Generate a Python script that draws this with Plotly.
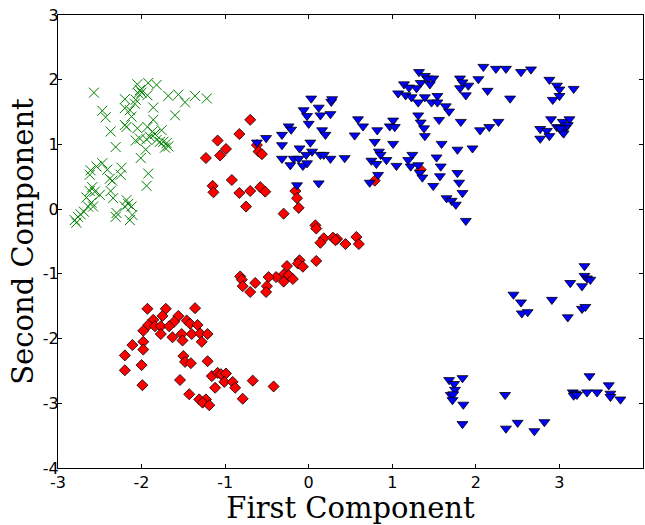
import plotly.graph_objects as go

# ---- data ----
green_x = [-2.05, -1.92, -1.82, -2.02, -2.00, -1.93, -2.04, -2.57, -1.68, -1.56, -1.48, -1.36, -1.22,
           -2.20, -2.07, -2.08, -2.20, -2.14, -1.86, -2.47, -2.43, -2.12, -1.60, -1.86, -2.20, -2.18,
           -2.05, -1.93, -2.37, -1.76, -1.87, -1.84, -2.07, -2.02, -1.94, -1.90, -1.82, -1.78, -1.74,
           -1.70, -1.68, -1.72, -2.31, -1.95, -2.01, -2.47, -2.54, -2.61, -2.62, -2.41, -2.24, -2.25,
           -1.92, -2.38, -2.35, -2.59, -2.62, -2.56, -2.50, -2.37, -2.34, -1.94, -2.66, -2.60, -2.58,
           -2.64, -2.69, -2.73, -2.76, -2.80, -2.78, -2.18, -2.16, -2.12, -2.20, -2.30, -2.31, -2.11,
           -2.14]
green_y = [1.93, 1.95, 1.92, 1.84, 1.80, 1.76, 1.79, 1.80, 1.75, 1.77, 1.65, 1.75, 1.71,
           1.70, 1.69, 1.63, 1.56, 1.53, 1.57, 1.52, 1.42, 1.43, 1.45, 1.38, 1.30, 1.27,
           1.25, 1.27, 1.20, 1.22, 1.20, 1.16, 1.06, 1.09, 1.08, 1.12, 1.07, 1.04, 1.04,
           1.02, 0.97, 0.95, 0.96, 0.92, 0.79, 0.71, 0.66, 0.60, 0.53, 0.61, 0.64, 0.53,
           0.55, 0.47, 0.44, 0.34, 0.28, 0.27, 0.22, 0.28, 0.17, 0.36, 0.18, 0.10, 0.04,
           0.04, -0.04, -0.08, -0.12, -0.17, -0.21, 0.14, 0.08, 0.04, 0.04, -0.06, -0.12, -0.09,
           -0.17]

red_x = [-0.70, -0.83, -1.09, -0.99, -1.23, -1.06, -0.62, -0.60, -0.56, -0.92, -1.15, -1.14, -0.83,
         -0.70, -0.58, -0.52, -0.75, -0.30, -0.16, -0.14, -0.12, 0.08, 0.09, 0.79, 1.34,
         0.18, 0.14, 0.29, 0.34, 0.32, 0.44, 0.57, 0.60, 0.09, -0.11, -0.13, -0.07, -0.26,
         -0.30, -0.24, -0.19, -0.30, -0.39, -0.48, -0.64, -0.82, -0.80, -0.79, -0.70, -0.50, -0.51,
         -1.93, -1.71, -1.36, -1.75, -1.56, -1.86, -1.61, -1.46, -1.92, -1.84, -1.77, -1.67, -1.42,
         -1.33, -1.98, -1.77, -1.63, -1.52, -1.40, -1.30, -1.21, -1.51, -1.28, -2.11, -1.98, -1.98,
         -2.20, -1.50, -1.48, -1.41, -1.21, -2.00, -2.20, -1.54, -1.99, -1.16, -1.09, -1.05, -0.99,
         -1.01, -0.91, -0.88, -1.12, -0.67, -0.42, -1.43, -1.31, -1.23, -1.27, -1.19, -0.79]
red_y = [1.38, 1.16, 1.06, 0.93, 0.79, 0.83, 0.99, 0.89, 0.85, 0.45, 0.36, 0.26, 0.25,
         0.28, 0.34, 0.27, 0.04, -0.07, 0.28, 0.17, 0.02, -0.25, -0.30, 0.44, 0.61,
         -0.45, -0.52, -0.44, -0.46, -0.48, -0.54, -0.43, -0.54, -0.80, -0.79, -0.84, -0.89, -0.88,
         -1.01, -1.02, -1.08, -1.12, -1.05, -1.05, -1.14, -1.04, -1.09, -1.19, -1.28, -1.19, -1.28,
         -1.54, -1.54, -1.53, -1.65, -1.65, -1.71, -1.74, -1.72, -1.79, -1.81, -1.81, -1.81, -1.77,
         -1.79, -1.88, -1.93, -1.98, -1.93, -1.93, -1.92, -1.93, -2.03, -2.05, -2.10, -2.05, -2.17,
         -2.26, -2.27, -2.36, -2.38, -2.35, -2.41, -2.49, -2.64, -2.72, -2.58, -2.53, -2.55, -2.54,
         -2.67, -2.67, -2.76, -2.76, -2.65, -2.74, -2.86, -2.94, -2.94, -2.99, -3.03, -2.93]

blue_x = [-0.06, 0.12, 0.27, -0.02, 0.14, 0.26, 0.00, -0.24, -0.21, -0.51, -0.32, 0.16, 0.20,
          -0.62, -0.32, 0.02, -0.11, 0.04, -0.03, -0.32, -0.18, -0.12, 0.14, 0.18, 0.26, -0.22,
          -0.07, -0.02, -0.14, 0.12, 0.03, 0.28, 0.43,
          1.32, 1.39, 1.43, 1.49, 1.34, 1.45, 1.14, 1.20, 1.29, 1.07, 1.16, 1.23, 1.39, 1.54,
          1.31, 1.47, 1.54, 1.64, 1.68, 1.81, 1.84, 1.91, 2.03, 1.81, 1.88, 2.14, 2.09, 2.24,
          0.59, 0.65, 0.55, 0.82, 1.01, 0.97, 1.03, 1.31, 1.34, 1.38, 1.39, 1.56, 1.82, 2.05,
          2.16, 2.27, 0.79, 1.01, 0.84, 0.86, 0.93, 0.75, 0.81, 1.05, 0.83, 0.73, 1.59, 1.78,
          1.96, 1.24, 1.19, 1.22, 1.31, 1.33, 1.36, 1.53, 1.58, 1.57, 1.49, 1.78, 1.80, 1.84,
          1.65, 1.71, 1.76, 1.88,
          2.36, 2.54, 2.66, 2.88, 2.97, 3.00, 3.17, 2.92, 3.00, 2.41, 2.90, 2.77, 2.85, 2.77,
          2.88, 2.97, 3.04, 3.12, 3.10, 3.07, 3.03, 3.05, 3.01,
          3.30, 3.30, 3.33, 3.37, 3.27, 3.13, 2.45, 2.54, 2.55, 2.62, 2.91, 3.10, 3.27, 3.31,
          1.68, 1.74, 1.84, 1.75, 1.70, 1.73, 1.72, 1.85, 1.84, 2.35, 2.36, 2.50, 2.70, 2.82,
          3.36, 3.59, 3.16, 3.19, 3.17, 3.21, 3.33, 3.45, 3.61, 3.61, 3.73]
blue_y = [1.53, 1.57, 1.66, 1.44, 1.45, 1.47, 1.32, 1.28, 1.23, 1.10, 1.15, 1.22, 1.15,
          1.03, 0.99, 1.03, 0.94, 0.89, 0.84, 0.78, 0.78, 0.78, 0.84, 0.84, 0.78, 0.68,
          0.67, 0.71, 0.37, 0.40, 1.71, 1.70, 0.79,
          2.12, 2.06, 2.02, 2.02, 1.95, 1.93, 1.93, 1.88, 1.87, 1.79, 1.76, 1.73, 1.73, 1.75,
          1.65, 1.65, 1.65, 1.59, 1.51, 2.02, 1.96, 1.91, 2.01, 1.87, 1.76, 1.83, 2.20, 2.17,
          1.39, 1.28, 1.14, 1.22, 1.37, 1.28, 1.27, 1.45, 1.34, 1.25, 1.13, 1.38, 1.35, 1.22,
          1.27, 1.35, 1.04, 1.01, 0.89, 0.84, 0.76, 0.75, 0.70, 0.67, 0.53, 0.41, 1.01, 0.92,
          0.94, 0.84, 0.76, 0.66, 0.68, 0.56, 0.49, 0.80, 0.66, 0.51, 0.36, 0.56, 0.41, 0.25,
          0.17, 0.13, 0.07, -0.18,
          2.17, 2.12, 2.16, 2.00, 1.91, 1.85, 1.86, 1.69, 1.75, 1.71, 1.39, 1.24, 1.21, 1.09,
          1.13, 1.27, 1.35, 1.39, 1.30, 1.25, 1.20, 1.17, 1.25,
          -0.88, -1.03, -1.07, -1.09, -1.19, -1.14, -1.32, -1.44, -1.61, -1.59, -1.40, -1.67, -1.54, -1.51,
          -2.64, -2.70, -2.61, -2.79, -2.87, -2.86, -2.95, -3.02, -3.32, -2.87, -3.39, -3.30, -3.43, -3.29,
          -2.58, -2.72, -2.83, -2.85, -2.88, -2.87, -2.83, -2.83, -2.85, -2.90, -2.94]

x_ticks = [-3, -2, -1, 0, 1, 2, 3, 4]
y_ticks = [-4, -3, -2, -1, 0, 1, 2, 3]

fig = go.Figure()
fig.add_trace(go.Scatter(x=green_x, y=green_y, mode="markers",
                         marker=dict(symbol="x-thin", size=10,
                                     line=dict(color="#008000", width=1), color="#008000")))
fig.add_trace(go.Scatter(x=red_x, y=red_y, mode="markers",
                         marker=dict(symbol="diamond", size=8.5, color="#ff0000",
                                     line=dict(color="black", width=0.8))))
fig.add_trace(go.Scatter(x=blue_x, y=blue_y, mode="markers",
                         marker=dict(symbol="triangle-down", size=9.5, color="#0000ff",
                                     line=dict(color="black", width=0.8))))

axis_common = dict(showgrid=False, zeroline=False, showline=True, linecolor="black",
                   linewidth=1, mirror="ticks", ticks="inside", ticklen=4, tickwidth=1,
                   tickcolor="black",
                   tickfont=dict(family="DejaVu Sans", size=16, color="black"))

fig.update_layout(
    width=645, height=525,
    margin=dict(l=58, r=2, t=15, b=57),
    plot_bgcolor="white", paper_bgcolor="white",
    showlegend=False,
    xaxis=dict(range=[-3, 4], tickvals=x_ticks, ticktext=[str(v) for v in x_ticks],
               title=dict(text="First Component", standoff=2,
                          font=dict(family="DejaVu Serif", size=29, color="black")),
               automargin=False, **axis_common),
    yaxis=dict(range=[-4, 3], tickvals=y_ticks, ticktext=[str(v) for v in y_ticks],
               ticklabelstandoff=-5,
               title=dict(text="Second Component", standoff=0,
                          font=dict(family="DejaVu Serif", size=29, color="black")),
               automargin=False, **axis_common),
)

fig.write_html("out.html")
